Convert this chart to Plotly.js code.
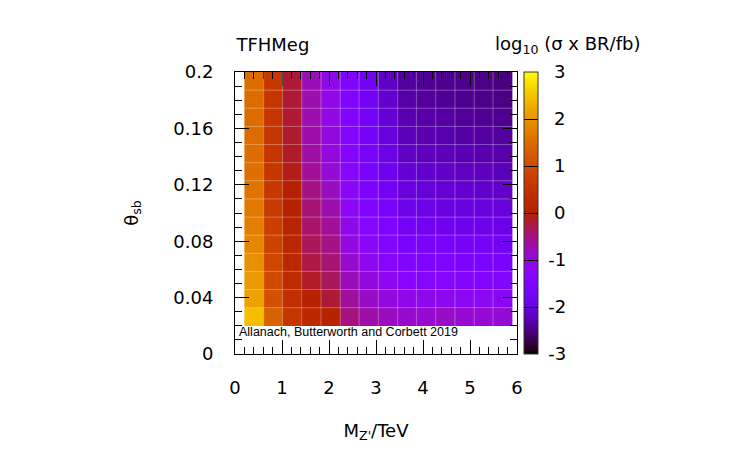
<!DOCTYPE html>
<html>
<head>
<meta charset="utf-8">
<script src="https://cdn.plot.ly/plotly-3.0.1.min.js"></script>
<style>html,body{margin:0;padding:0;background:#fff}#chart{width:750px;height:450px}</style>
</head>
<body>
<div id="chart"></div>
<script>
// Bin edges (M_Z' in TeV, theta_sb)
const massEdges = [0.2, 0.61, 1.01, 1.42, 1.83, 2.24, 2.64, 3.05, 3.46, 3.86, 4.27, 4.68, 5.09, 5.49, 5.9];
const thetaEdges = [0.02, 0.0329, 0.0457, 0.0586, 0.0714, 0.0843, 0.0971, 0.11, 0.1229, 0.1357, 0.1486, 0.1614, 0.1743, 0.1871, 0.2];

// log10(sigma x BR / fb) for each mass bin, listed from lowest to highest theta_sb
const mBin01 = [2.45, 2.15, 2.05, 1.95, 1.85, 1.75, 1.68, 1.6, 1.55, 1.52, 1.5, 1.5, 1.5, 1.52];
const mBin02 = [1.35, 1.08, 0.98, 0.9, 0.82, 0.75, 0.68, 0.62, 0.6, 0.58, 0.58, 0.58, 0.6, 0.62];
const mBin03 = [0.6, 0.42, 0.32, 0.25, 0.18, 0.12, 0.05, 0.0, -0.08, -0.14, -0.17, -0.19, -0.2, -0.2];
const mBin04 = [0.25, 0.05, -0.15, -0.25, -0.33, -0.4, -0.45, -0.52, -0.6, -0.66, -0.7, -0.72, -0.72, -0.75];
const mBin05 = [0.1, -0.2, -0.36, -0.45, -0.52, -0.62, -0.72, -0.82, -0.95, -1.0, -1.02, -1.05, -1.08, -1.1];
const mBin06 = [-0.5, -0.63, -0.78, -0.9, -1.0, -1.1, -1.2, -1.28, -1.35, -1.4, -1.43, -1.46, -1.48, -1.5];
const mBin07 = [-0.7, -0.85, -1.02, -1.17, -1.28, -1.38, -1.5, -1.56, -1.62, -1.68, -1.72, -1.75, -1.78, -1.8];
const mBin08 = [-0.8, -1.0, -1.18, -1.35, -1.45, -1.55, -1.68, -1.78, -1.86, -1.93, -2.0, -2.05, -2.1, -2.15];
const mBin09 = [-0.9, -1.12, -1.33, -1.48, -1.62, -1.76, -1.88, -1.98, -2.07, -2.15, -2.22, -2.28, -2.32, -2.35];
const mBin10 = [-0.92, -1.15, -1.36, -1.52, -1.66, -1.8, -1.93, -2.03, -2.12, -2.2, -2.27, -2.32, -2.37, -2.4];
const mBin11 = [-0.85, -1.17, -1.38, -1.54, -1.69, -1.83, -1.96, -2.06, -2.15, -2.23, -2.3, -2.35, -2.4, -2.43];
const mBin12 = [-0.93, -1.19, -1.4, -1.57, -1.72, -1.86, -1.99, -2.09, -2.18, -2.26, -2.33, -2.38, -2.42, -2.45];
const mBin13 = [-0.93, -1.2, -1.42, -1.59, -1.74, -1.88, -2.01, -2.11, -2.2, -2.28, -2.35, -2.4, -2.44, -2.47];
const mBin14 = [-0.95, -1.22, -1.44, -1.61, -1.76, -1.9, -2.03, -2.13, -2.22, -2.3, -2.37, -2.42, -2.47, -2.5];

const colorbarTicks = [-3, -2, -1, 0, 1, 2, 3];
const colorbarLabels = ['-3', '-2', '-1', '0', '1', '2', '3'];
const footnote = 'Allanach, Butterworth and Corbett 2019';

const massBins = [mBin01, mBin02, mBin03, mBin04, mBin05, mBin06, mBin07, mBin08, mBin09, mBin10, mBin11, mBin12, mBin13, mBin14];
// z[row = theta index][col = mass index]
const z = thetaEdges.slice(0, -1).map((_, j) => massBins.map(col => col[j]));

// gnuplot default pm3d palette (rgbformulae 7,5,15)
const colorscale = [];
const N = 60;
for (let i = 0; i <= N; i++) {
  const t = i / N;
  const r = Math.round(255 * Math.sqrt(t));
  const g = Math.round(255 * Math.pow(t, 3));
  const b = Math.round(255 * Math.max(0, Math.sin(2 * Math.PI * t)));
  colorscale.push([t, `rgb(${r},${g},${b})`]);
}

// faint cell boundary lines
const shapes = [];
massEdges.slice(1, -1).forEach(x => shapes.push({type:'line', xref:'x', yref:'y', x0:x, x1:x, y0:thetaEdges[0], y1:thetaEdges[thetaEdges.length-1], line:{color:'rgba(255,255,255,0.3)', width:1}, layer:'above'}));
thetaEdges.slice(1, -1).forEach(y => shapes.push({type:'line', xref:'x', yref:'y', y0:y, y1:y, x0:massEdges[0], x1:massEdges[massEdges.length-1], line:{color:'rgba(255,255,255,0.3)', width:1}, layer:'above'}));

const font = 'DejaVu Sans, sans-serif';
const NB = '\u00A0';

const trace = {
  type: 'heatmap',
  x: massEdges,
  y: thetaEdges,
  z: z,
  zmin: -3, zmax: 3,
  colorscale: colorscale,
  hoverinfo: 'skip',
  colorbar: {
    x: 1.025, xanchor: 'left', xref: 'paper',
    y: 0.5, yanchor: 'middle', len: 1, lenmode: 'fraction',
    thickness: 14, thicknessmode: 'pixels',
    outlinewidth: 1, outlinecolor: '#333',
    tickvals: colorbarTicks,
    ticktext: colorbarLabels.map(s => s.startsWith('-') ? NB + s : NB + NB + s),
    ticks: 'inside', ticklen: 14, tickcolor: '#000', tickwidth: 1,
    tickfont: {family: font, size: 18, color: '#000'},
    xpad: 0, ypad: 0
  }
};

const layout = {
  width: 750, height: 450,
  margin: {l: 235, r: 233, t: 72, b: 96},
  paper_bgcolor: '#fff', plot_bgcolor: '#fff',
  font: {family: font, color: '#000'},
  title: {text: 'TFHMeg', x: 0.005, xref: 'paper', xanchor: 'left', y: 0.9, yref: 'container', yanchor: 'middle', font: {family: font, size: 18, color: '#000'}},
  xaxis: {
    range: [0, 6], dtick: 1, tick0: 0,
    ticks: 'inside', ticklen: 14, tickwidth: 1, tickcolor: '#000',
    showline: true, linecolor: '#000', linewidth: 1, mirror: 'ticks',
    showgrid: false, zeroline: false,
    minor: {ticks: 'inside', dtick: 0.2, ticklen: 7, tickcolor: '#000', showgrid: false},
    tickfont: {family: font, size: 18, color: '#000'},
    ticklabelstandoff: 17,
    title: {text: "M<sub>Z'</sub>/TeV", font: {family: font, size: 18, color: '#000'}, standoff: 27}
  },
  yaxis: {
    range: [0, 0.2], dtick: 0.04, tick0: 0,
    ticks: 'inside', ticklen: 14, tickwidth: 1, tickcolor: '#000',
    showline: true, linecolor: '#000', linewidth: 1, mirror: 'ticks',
    showgrid: false, zeroline: false,
    minor: {ticks: 'inside', dtick: 0.01, ticklen: 7, tickcolor: '#000', showgrid: false},
    tickfont: {family: font, size: 18, color: '#000'},
    ticklabelstandoff: 17,
    title: {text: 'θ<sub>sb</sub>', font: {family: font, size: 18, color: '#000'}, standoff: 30}
  },
  shapes: shapes,
  annotations: [
    {text: 'log<sub>10</sub> (σ x BR/fb)', xref: 'paper', yref: 'paper', x: 1.443, y: 1.096, xanchor: 'right', yanchor: 'middle', showarrow: false, font: {family: font, size: 18, color: '#000'}},
    {text: footnote, xref: 'paper', yref: 'paper', x: 0.006, y: 0.078, xanchor: 'left', yanchor: 'middle', showarrow: false, font: {family: 'Liberation Sans, Arial, sans-serif', size: 12.5, color: '#000'}}
  ]
};

Plotly.newPlot('chart', [trace], layout, {displayModeBar: false, staticPlot: true});
</script>
</body>
</html>
